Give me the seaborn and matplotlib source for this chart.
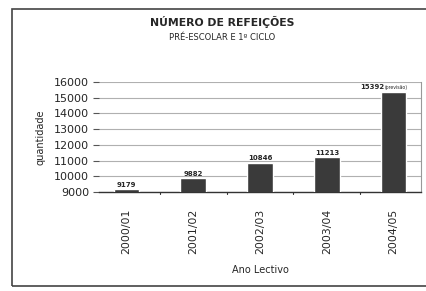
import matplotlib
matplotlib.use("Agg")
import matplotlib.pyplot as plt
import seaborn as sns
import pandas as pd
from matplotlib.patches import Rectangle

anos = ["2000/01", "2001/02", "2002/03", "2003/04", "2004/05"]
refeicoes = [9179, 9882, 10846, 11213, 15392]
yticks = [9000, 10000, 11000, 12000, 13000, 14000, 15000, 16000]

sns.set_style("white")
plt.rcParams['font.family'] = ['DejaVu Sans']

df = pd.DataFrame({"ano": anos, "n": refeicoes})

W, H = 426, 291
fig = plt.figure(figsize=(W / 100, H / 100), dpi=100)
ax = fig.add_axes([99 / W, 1 - 192 / H, (421 - 99) / W, (192 - 82) / H])

sns.barplot(data=df, x="ano", y="n", color="#3a3a3a", width=0.38, ax=ax,
            saturation=1, zorder=3)

ax.set_ylim(9000, 16000)
ax.set_yticks(yticks)
ax.set_yticklabels([str(v) for v in yticks], fontsize=8)
ax.yaxis.grid(True, color="#b0b0b0", linewidth=0.8, zorder=0)
ax.set_xticks(range(len(anos)))
ax.set_xticklabels(anos, rotation=90, fontsize=7.8)
ax.tick_params(axis="x", length=0, pad=12)
ax.tick_params(axis="y", length=4, pad=3, left=True, color="#555555")
for s in ["top", "left"]:
    ax.spines[s].set_visible(False)
ax.spines["right"].set_color("#999999")
ax.spines["right"].set_linewidth(0.8)
ax.spines["bottom"].set_color("#333333")
ax.spines["bottom"].set_linewidth(1)

# category separator ticks on x axis
for i in range(len(anos) - 1):
    ax.plot([i + 0.5, i + 0.5], [9000, 9000 - 120], color="#333333",
            linewidth=0.8, clip_on=False, zorder=4)

for i, v in enumerate(refeicoes[:-1]):
    ax.text(i, v + 100, str(v), ha="center", va="bottom", fontsize=5,
            fontweight="bold", zorder=5)
ax.text(4 - 0.14, refeicoes[4] + 110, str(refeicoes[4]), ha="right", va="bottom",
        fontsize=5, fontweight="bold", zorder=5)
ax.text(4 - 0.13, refeicoes[4] + 110, "(previsão)", ha="left", va="bottom",
        fontsize=3.3, zorder=5)

ax.set_ylabel("quantidade", fontsize=7, labelpad=6)
ax.set_xlabel("Ano Lectivo", fontsize=7, labelpad=8)

fig.text(222 / W, 1 - 22 / H, "NÚMERO DE REFEIÇÕES", ha="center", va="center",
         fontsize=7.8, fontweight="bold")
fig.text(222 / W, 1 - 37 / H, "PRÉ-ESCOLAR E 1º CICLO", ha="center", va="center",
         fontsize=6)

fig.patches.append(Rectangle((12 / W, 1 - 286 / H), (W + 5 - 12) / W, (286 - 9) / H,
                             transform=fig.transFigure, fill=False,
                             edgecolor="#444444", linewidth=1.2))

fig.savefig("out.png", dpi=100)
